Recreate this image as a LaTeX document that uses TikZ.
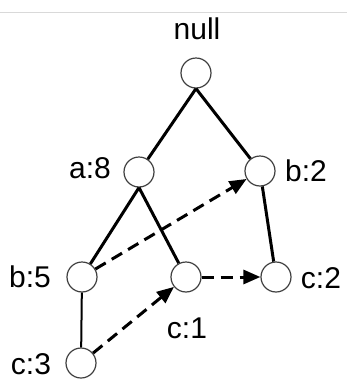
\documentclass[tikz,border=0pt]{standalone}
\usepackage{fontspec}
\setmainfont{Liberation Sans}
\usetikzlibrary{arrows.meta}

\begin{document}
\begin{tikzpicture}[x=1pt, y=-1pt,
    item/.style={circle, draw=black!75, line width=1.2pt, fill=white, minimum size=30pt, inner sep=0pt},
    lbl/.style={inner sep=0pt, font=\fontsize{30}{32}\selectfont},
    tree/.style={line width=3pt},
    link/.style={line width=3pt, dash pattern=on 12pt off 7pt, -{Triangle[length=17pt,width=14pt]}}]
    \useasboundingbox (0,0) rectangle (347,381);
    \draw[black!15, line width=0.8pt] (0,12.5) -- (347,12.5);
    % tree nodes
    \node[item] (null) at (196,73) {};
    \node[item] (a8) at (139,172) {};
    \node[item] (b2) at (260,171) {};
    \node[item] (b5) at (82,277) {};
    \node[item] (c1) at (186,277) {};
    \node[item] (c2) at (276,277) {};
    \node[item] (c3) at (81,363) {};
    % labels
    \node[lbl] (lnull) at (197,29) {null};
    \node[lbl] (la8) at (90,168) {a:8};
    \node[lbl] (lb2) at (306,171) {b:2};
    \node[lbl] (lb5) at (30,277) {b:5};
    \node[lbl] (lc1) at (187,328) {c:1};
    \node[lbl] (lc2) at (321,278) {c:2};
    \node[lbl] (lc3) at (31,364) {c:3};
    % tree edges
    \draw[tree] (null.south) -- (a8);
    \draw[tree] (null.south) -- (b2);
    \draw[tree] (a8.south) -- (b5);
    \draw[tree] (a8.south) -- (c1);
    \draw[tree] (b2) -- (c2);
    \draw[tree, line width=2pt] (b5) -- (c3);
    % node links
    \draw[link] (b5) -- (b2);
    \draw[link] (c1) -- (c2);
    \draw[link] (c3) -- (c1);
\end{tikzpicture}
\end{document}
